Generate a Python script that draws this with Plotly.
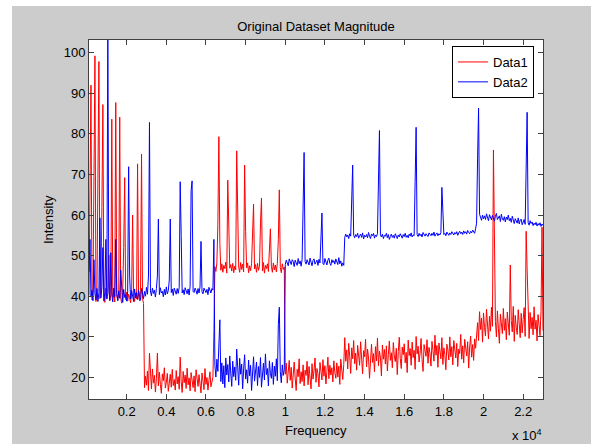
import plotly.graph_objects as go

# ---- data ----
FREQ_START = 100          # first frequency bin (Hz)
FREQ_STEP = 50            # bin spacing (Hz)

DATA1 = [  # red trace, one value per bin
    40.2, 66.5, 92.0, 39.1, 41.3, 69.5, 99.2, 38.7, 40.6, 69.0,
    97.8, 39.4, 41.8, 61.8, 87.2, 40.1, 38.5, 42.0, 39.3, 40.8,
    50.1, 38.9, 40.4, 83.6, 39.7, 41.5, 38.6, 87.7, 40.3, 39.0,
    41.2, 84.1, 39.5, 38.3, 40.9, 52.0, 69.2, 39.2, 41.0, 38.8,
    40.5, 39.6, 38.4, 41.1, 60.0, 39.9, 38.7, 40.8, 39.3, 72.6,
    40.0, 38.9, 41.4, 75.0, 39.5, 38.2, 17.5, 20.3, 18.1, 21.6,
    16.8, 26.0, 19.4, 17.2, 22.1, 18.6, 20.5, 16.4, 19.8, 26.0,
    17.9, 21.3, 18.3, 16.1, 20.9, 19.2, 22.4, 17.4, 18.8, 21.0,
    16.6, 19.7, 20.8, 17.6, 22.0, 18.0, 19.5, 16.9, 21.7, 18.4,
    20.2, 17.1, 25.0, 19.0, 16.3, 21.5, 18.7, 20.6, 17.3, 22.3,
    18.2, 19.9, 16.7, 21.2, 18.9, 17.5, 20.4, 16.5, 21.9, 19.1,
    17.8, 20.7, 18.5, 16.2, 21.1, 19.6, 17.0, 22.2, 18.3, 20.0,
    16.9, 19.3, 21.4, 17.7, 18.6, 20.1, 31.5, 47.3, 46.1, 48.2,
    57.6, 79.3, 53.0, 46.4, 48.0, 45.9, 47.6, 46.8, 48.4, 45.7,
    68.6, 58.0, 46.9, 47.8, 46.2, 48.1, 45.8, 47.4, 46.5, 75.8,
    58.0, 47.2, 45.9, 48.3, 46.6, 47.9, 46.0, 72.3, 56.0, 47.0,
    48.2, 45.8, 47.5, 46.3, 48.0, 55.0, 62.7, 46.7, 47.8, 45.9,
    48.1, 46.4, 47.3, 58.0, 64.2, 46.2, 48.3, 45.7, 47.6, 46.8,
    48.0, 46.1, 51.0, 56.6, 47.4, 45.9, 48.2, 46.5, 47.7, 46.0,
    48.1, 54.0, 66.2, 47.1, 45.8, 48.0, 46.6, 47.2, 20.8, 23.5,
    18.6, 21.9, 24.2, 19.3, 22.5, 17.4, 20.7, 23.8, 19.9, 16.8,
    22.0, 20.2, 24.6, 18.5, 21.4, 19.0, 23.1, 17.9, 21.8, 20.5,
    24.0, 18.2, 22.7, 20.0, 17.2, 23.4, 19.6, 21.6, 24.8, 18.8,
    22.2, 20.9, 17.7, 23.7, 21.0, 19.4, 24.4, 20.3, 22.9, 18.4,
    21.5, 25.0, 19.7, 23.0, 20.6, 22.4, 18.9, 24.1, 21.2, 19.8,
    23.6, 20.1, 22.8, 18.3, 24.5, 21.7, 19.5, 23.2, 29.8, 24.0,
    26.8, 22.1, 28.4, 25.2, 21.0, 27.3, 24.6, 29.1, 23.4, 26.0,
    21.8, 27.9, 25.5, 23.0, 28.8, 24.3, 20.9, 26.6, 25.1, 29.4,
    22.6, 27.0, 24.8, 19.8, 26.3, 28.2, 23.7, 25.9, 21.4, 27.6,
    24.1, 29.7, 22.9, 26.5, 25.0, 20.4, 28.0, 24.5, 26.9, 23.3,
    27.8, 21.6, 25.7, 29.0, 24.2, 26.1, 22.4, 28.6, 25.3, 23.9,
    27.2, 20.7, 26.4, 29.9, 24.7, 22.2, 27.5, 25.6, 28.3, 23.6,
    26.2, 21.2, 29.2, 25.4, 27.1, 23.0, 28.7, 24.9, 26.7, 22.0,
    30.1, 25.8, 27.7, 23.8, 26.0, 29.6, 24.4, 21.5, 28.1, 26.3,
    25.2, 29.3, 23.5, 27.4, 25.9, 22.8, 28.9, 26.6, 24.0, 30.4,
    25.5, 27.9, 22.5, 28.5, 26.2, 24.6, 29.8, 23.2, 27.3, 25.7,
    21.9, 28.2, 26.8, 24.3, 30.0, 25.1, 27.6, 23.1, 29.1, 26.4,
    24.8, 28.4, 22.7, 27.0, 25.9, 30.6, 24.5, 27.8, 23.6, 29.4,
    26.1, 25.3, 28.8, 22.3, 27.5, 30.2, 25.0, 28.1, 24.2, 29.5,
    27.2, 31.0, 33.5, 29.1, 36.2, 31.8, 34.6, 28.7, 35.9, 32.3,
    30.2, 36.8, 33.0, 29.5, 35.1, 31.4, 37.3, 32.6, 76.0, 48.0,
    33.8, 30.0, 36.4, 32.1, 28.4, 35.6, 33.2, 30.8, 37.0, 31.6,
    34.5, 29.3, 36.1, 32.8, 30.4, 47.7, 34.0, 31.2, 37.5, 28.9,
    35.3, 32.4, 30.6, 36.7, 33.6, 29.8, 35.8, 31.0, 34.3, 37.2,
    30.1, 56.0, 46.5, 33.1, 29.6, 36.0, 32.0, 34.8, 30.5, 37.4,
    31.9, 34.1, 29.0, 35.5, 32.7, 30.3, 36.3, 57.0, 31.5,
]

DATA2 = [  # blue trace, one value per bin
    46.0, 54.0, 39.8, 41.5, 38.9, 49.0, 40.6, 39.1, 41.9, 38.7,
    40.9, 59.3, 39.6, 42.1, 52.0, 38.8, 41.0, 54.0, 39.4, 106.0,
    41.6, 39.0, 50.7, 40.3, 38.6, 42.0, 39.9, 54.0, 40.7, 38.9,
    41.3, 39.5, 46.5, 40.1, 38.5, 41.7, 39.7, 40.4, 38.8, 41.1,
    71.9, 45.0, 39.3, 41.4, 40.0, 38.7, 41.8, 39.6, 40.9, 39.2,
    41.5, 40.2, 39.0, 41.9, 40.6, 39.4, 41.2, 40.0, 42.2, 40.5,
    45.0, 82.8, 41.3, 40.1, 42.0, 40.7, 41.5, 39.8, 41.9, 45.0,
    59.0, 40.4, 42.1, 40.8, 41.2, 39.9, 41.7, 40.3, 42.3, 40.6,
    41.4, 44.0, 59.0, 40.9, 41.8, 40.2, 42.0, 41.1, 40.5, 41.9,
    40.7, 42.2, 68.2, 55.0, 40.8, 41.6, 40.4, 42.1, 41.0, 40.6,
    41.8, 40.3, 42.4, 66.0, 68.4, 41.2, 40.9, 42.0, 41.4, 40.5,
    41.9, 40.8, 42.3, 53.5, 41.1, 40.6, 42.0, 41.5, 40.9, 41.7,
    40.4, 42.2, 41.3, 40.8, 41.9, 41.5, 54.0, 23.0, 20.1, 24.5,
    21.5, 28.0, 34.2, 19.0, 23.6, 18.4, 22.9, 17.5, 24.8, 20.6,
    23.2, 18.9, 25.3, 21.1, 17.8, 24.0, 20.2, 22.6, 19.3, 27.0,
    21.7, 18.1, 24.7, 20.8, 23.3, 17.2, 22.1, 25.6, 19.6, 21.9,
    18.6, 24.3, 20.4, 23.0, 16.8, 22.4, 25.1, 19.1, 21.3, 23.8,
    18.0, 22.7, 20.0, 24.9, 17.6, 21.6, 23.5, 19.4, 25.8, 20.7,
    22.2, 17.9, 24.1, 21.0, 19.8, 23.7, 18.3, 22.8, 20.3, 24.6,
    19.2, 33.0, 37.3, 21.4, 18.7, 23.1, 20.5, 22.0, 47.8, 48.9,
    48.1, 47.5, 49.2, 48.4, 47.8, 49.0, 48.6, 47.3, 48.9, 48.2,
    47.6, 49.3, 48.0, 48.7, 47.4, 49.1, 63.0, 75.4, 48.5, 47.9,
    49.0, 48.3, 47.7, 49.4, 48.1, 47.5, 48.8, 49.2, 47.9, 48.4,
    48.9, 47.6, 49.1, 48.2, 55.0, 60.5, 48.0, 47.8, 49.3, 48.5,
    47.7, 48.9, 49.4, 48.1, 47.6, 49.0, 48.3, 48.8, 47.9, 49.2,
    48.4, 47.8, 49.5, 48.0, 48.7, 47.4, 48.2, 47.6, 54.5, 55.3,
    54.6, 55.1, 54.2, 55.4, 54.8, 63.0, 72.3, 55.0, 54.4, 55.2,
    54.7, 55.5, 54.3, 54.9, 55.3, 54.5, 55.6, 54.1, 55.0, 54.6,
    55.2, 54.4, 55.7, 54.8, 54.2, 55.3, 54.9, 55.5, 54.3, 55.1,
    54.7, 55.4, 67.4, 80.8, 55.1, 54.6, 55.3, 54.2, 55.0, 54.8,
    55.5, 54.4, 55.2, 54.0, 54.7, 55.3, 54.5, 55.0, 54.3, 55.4,
    54.8, 54.2, 55.1, 54.6, 55.4, 54.9, 54.3, 55.2, 54.7, 55.5,
    54.5, 55.0, 54.4, 55.3, 54.8, 55.6, 54.6, 55.1, 54.9, 68.2,
    81.6, 55.2, 54.7, 55.5, 54.9, 55.3, 54.6, 55.7, 55.0, 54.8,
    55.4, 55.1, 54.7, 55.6, 55.2, 54.9, 55.5, 55.0, 55.8, 54.8,
    55.3, 55.6, 54.9, 55.4, 55.1, 55.7, 66.8, 61.8, 55.2, 55.5,
    54.9, 55.8, 55.3, 55.0, 55.6, 55.2, 55.9, 55.4, 55.1, 55.7,
    55.3, 55.9, 55.0, 55.6, 56.0, 55.4, 55.8, 55.2, 56.1, 55.5,
    55.9, 55.3, 56.2, 55.7, 55.4, 56.0, 55.6, 56.3, 55.8, 55.5,
    56.6, 58.0, 74.0, 86.3, 60.2, 59.4, 58.7, 60.0, 59.1, 59.8,
    58.9, 60.3, 59.5, 58.6, 60.1, 59.2, 58.8, 59.9, 59.4, 58.5,
    59.7, 60.4, 58.9, 59.3, 59.8, 58.4, 60.2, 59.0, 58.7, 59.6,
    58.3, 59.5, 58.9, 60.0, 58.6, 59.2, 58.2, 59.7, 58.8, 57.9,
    59.1, 58.5, 58.0, 59.3, 57.8, 58.7, 59.0, 57.6, 58.4, 58.9,
    57.7, 78.0, 85.3, 58.1, 57.5, 58.6, 57.9, 58.3, 57.4, 58.0,
    57.6, 58.2, 57.3, 57.9, 57.5, 58.1, 57.2, 57.8, 57.4,
]

SERIES_NAMES = ["Data1", "Data2"]
SERIES_COLORS = ["#ff0000", "#0000ff"]

X_TICK_VALUES = [2000, 4000, 6000, 8000, 10000, 12000, 14000, 16000, 18000, 20000, 22000]
X_TICK_LABELS = ["0.2", "0.4", "0.6", "0.8", "1", "1.2", "1.4", "1.6", "1.8", "2", "2.2"]
Y_TICK_VALUES = [20, 30, 40, 50, 60, 70, 80, 90, 100]

assert len(DATA1) == len(DATA2)
freq = [FREQ_START + FREQ_STEP * k for k in range(len(DATA1))]

# ---- figure ----
W, H = 591, 444
L, R, T, B = 89, 48, 40, 45
pw, ph = W - L - R, H - T - B


def px_x(x):
    return (x - L) / pw


def px_y(y):
    return (H - B - y) / ph


FONT = "Liberation Sans, Arial, Helvetica, sans-serif"

fig = go.Figure()
for name, vals, col in zip(SERIES_NAMES, [DATA1, DATA2], SERIES_COLORS):
    fig.add_trace(go.Scatter(x=freq, y=vals, mode="lines", name=name,
                             line=dict(color=col, width=1)))

axis_common = dict(showline=True, linecolor="#404040", linewidth=1, mirror="allticks",
                   ticks="inside", ticklen=5, tickcolor="#404040", showgrid=False,
                   zeroline=False, tickfont=dict(family=FONT, size=13, color="black"))

fig.update_xaxes(range=[FREQ_START, freq[-1]], tickvals=X_TICK_VALUES,
                 ticktext=X_TICK_LABELS, **axis_common)
fig.update_yaxes(range=[14.7, 103.1], tickvals=Y_TICK_VALUES, **axis_common)

fig.update_layout(
    width=W, height=H,
    margin=dict(l=L, r=R, t=T, b=B, pad=0),
    paper_bgcolor="#cccccc", plot_bgcolor="white",
    font=dict(family=FONT, size=13, color="black"),
    title=dict(text="Original Dataset Magnitude", x=px_x(316), xref="paper",
               y=1 - 26 / H, yref="container", xanchor="center", yanchor="middle",
               font=dict(family=FONT, size=13, color="black")),
    legend=dict(x=px_x(534), y=px_y(46), xanchor="right", yanchor="top",
                bgcolor="white", bordercolor="black", borderwidth=1,
                font=dict(family=FONT, size=13, color="black"), tracegroupgap=0),
    showlegend=True,
    annotations=[
        dict(text="Frequency", x=px_x(316), y=px_y(430), xref="paper", yref="paper",
             showarrow=False, xanchor="center", yanchor="middle",
             font=dict(family=FONT, size=13, color="black")),
        dict(text="Intensity", x=px_x(48), y=px_y(220), xref="paper", yref="paper",
             showarrow=False, xanchor="center", yanchor="middle", textangle=-90,
             font=dict(family=FONT, size=13, color="black")),
        dict(text="x 10<sup>4</sup>", x=px_x(544), y=px_y(435), xref="paper", yref="paper",
             showarrow=False, xanchor="right", yanchor="middle",
             font=dict(family=FONT, size=13, color="black")),
    ],
    shapes=[
        dict(type="rect", xref="paper", yref="paper", x0=px_x(0), x1=px_x(12),
             y0=px_y(H), y1=px_y(0), fillcolor="white", line=dict(width=0), layer="above"),
        dict(type="rect", xref="paper", yref="paper", x0=px_x(0), x1=px_x(W),
             y0=px_y(6), y1=px_y(0), fillcolor="white", line=dict(width=0), layer="above"),
    ],
)

fig.write_html("out.html")
